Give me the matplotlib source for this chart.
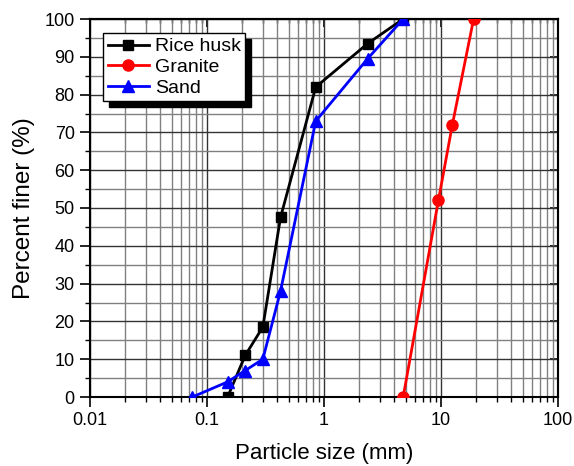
import matplotlib.pyplot as plt
from matplotlib.ticker import LogLocator, MultipleLocator, FixedLocator, FixedFormatter, NullFormatter

plt.rcParams['font.family'] = ['Liberation Sans', 'DejaVu Sans']

# sieve data
rice_size = [0.15, 0.212, 0.3, 0.425, 0.85, 2.36, 4.75]
rice_pass = [0, 11, 18.5, 47.5, 82, 93.5, 100]
granite_size = [4.75, 9.5, 12.5, 19]
granite_pass = [0, 52, 72, 100]
sand_size = [0.075, 0.15, 0.212, 0.3, 0.425, 0.85, 2.36, 4.75]
sand_pass = [0, 4, 7, 10, 28, 73, 89.5, 100]

xticks = [0.01, 0.1, 1, 10, 100]
xticklabels = ['0.01', '0.1', '1', '10', '100']

fig = plt.figure(figsize=(5.74, 4.66), dpi=100)
ax = fig.add_axes([90/574, 69/466, 468/574, 378/466])

ax.plot(rice_size, rice_pass, 'k-s', lw=2, ms=7, label='Rice husk', zorder=3)
ax.plot(granite_size, granite_pass, '-o', color='red', lw=2, ms=8, label='Granite', zorder=3)
ax.plot(sand_size, sand_pass, '-^', color='blue', lw=2, ms=8, label='Sand', zorder=3)

ax.set_xscale('log')
ax.set_xlim(0.01, 100)
ax.set_ylim(0, 100)
ax.xaxis.set_major_locator(FixedLocator(xticks))
ax.xaxis.set_major_formatter(FixedFormatter(xticklabels))
ax.xaxis.set_minor_locator(LogLocator(base=10, subs=range(2, 10)))
ax.xaxis.set_minor_formatter(NullFormatter())
ax.yaxis.set_major_locator(MultipleLocator(10))
ax.yaxis.set_minor_locator(MultipleLocator(5))

ax.grid(which='major', color='#333333', lw=1)
ax.grid(which='minor', color='#808080', lw=1)
ax.set_axisbelow(True)

# bottom/left ticks outward
ax.tick_params(which='both', direction='out', labelsize=13, pad=4)
ax.tick_params(which='major', length=7, width=1.2)
ax.tick_params(which='minor', length=3.5, width=1)

# top/right ticks inward
top = ax.secondary_xaxis('top')
top.xaxis.set_major_locator(FixedLocator(xticks))
top.xaxis.set_minor_locator(LogLocator(base=10, subs=range(2, 10)))
top.tick_params(which='both', direction='in', labeltop=False)
top.tick_params(which='major', length=6, width=1.2)
top.tick_params(which='minor', length=3, width=1)
right = ax.secondary_yaxis('right')
right.yaxis.set_major_locator(MultipleLocator(10))
right.yaxis.set_minor_locator(MultipleLocator(5))
right.tick_params(which='both', direction='in', labelright=False)
right.tick_params(which='major', length=6, width=1.2)
right.tick_params(which='minor', length=3, width=1)
for a in (ax, top, right):
    for s in a.spines.values():
        s.set_linewidth(1.5)

ax.set_xlabel('Particle size (mm)', fontsize=16, labelpad=10)
ax.set_ylabel('Percent finer (%)', fontsize=17.5, labelpad=6.5)

leg = ax.legend(loc='upper left', bbox_to_anchor=(0.028, 0.963), fontsize=14,
                fancybox=False, edgecolor='black', framealpha=1,
                shadow={'color': 'black', 'alpha': 1, 'ox': 4, 'oy': -4},
                handlelength=2.1, borderpad=0.25, labelspacing=0.15, handletextpad=0.3,
                borderaxespad=0)
leg.get_frame().set_linewidth(1)

fig.savefig('out.png', dpi=100)
